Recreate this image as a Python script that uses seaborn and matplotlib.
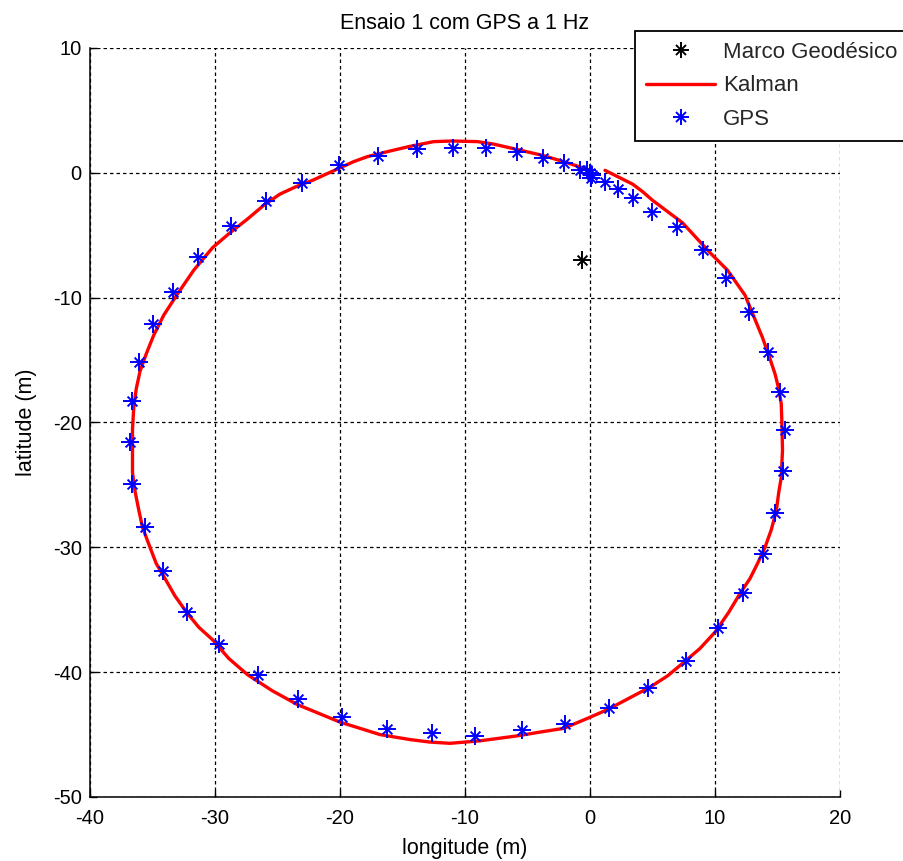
import matplotlib
matplotlib.use("Agg")
import matplotlib.pyplot as plt
import seaborn as sns
import pandas as pd
from matplotlib.lines import Line2D
from matplotlib.legend_handler import HandlerTuple

# ---- data ----
marco_lon = [-0.6]
marco_lat = [-7.0]

kalman_lon = [1.2, 2.3, 3.4, 4.2, 5.0, 6.2, 7.4, 8.5, 9.6, 10.3, 11.0, 11.7, 12.4, 13.1, 13.8,
              14.3, 14.8, 15.1, 15.3, 15.35, 15.4, 15.3, 15.1, 14.9, 14.5, 14.0, 13.4, 12.8,
              12.0, 11.1, 10.0, 8.8, 7.4, 6.2, 4.8, 3.1, 1.4, -0.2, -2.1, -4.0, -5.8, -7.3,
              -8.8, -10.0, -11.2, -12.8, -14.4, -15.6, -16.8, -18.4, -20.0, -21.7, -23.4,
              -25.4, -27.4, -28.9, -30.2, -31.3, -32.2, -33.2, -34.0, -34.7, -35.2, -35.8,
              -36.1, -36.4, -36.6, -36.6, -36.6, -36.5, -36.3, -36.0, -35.5, -34.9, -34.1,
              -33.0, -31.7, -30.2, -28.8, -27.4, -26.1, -24.8, -23.5, -22.2, -21.1, -20.0,
              -18.9, -17.8, -16.2, -14.5, -13.5, -12.5, -11.0, -9.0, -7.7, -6.4, -5.1, -3.8,
              -2.8, -1.8, -0.9, 0.0]
kalman_lat = [0.2, -0.35, -0.9, -1.5, -2.2, -3.1, -4.0, -5.2, -6.4, -7.1, -7.8, -8.8, -9.8,
              -11.5, -13.2, -14.6, -16.1, -17.3, -18.5, -20.0, -22.2, -24.4, -25.6, -27.1,
              -28.6, -30.0, -31.3, -32.5, -33.7, -35.2, -36.8, -38.1, -39.3, -40.3, -41.2,
              -42.1, -43.0, -43.7, -44.5, -44.8, -45.1, -45.3, -45.5, -45.6, -45.7, -45.6,
              -45.4, -45.2, -45.0, -44.5, -44.0, -43.3, -42.6, -41.5, -40.2, -38.9, -37.4,
              -36.4, -35.3, -33.9, -32.5, -31.3, -30.0, -28.4, -27.0, -25.5, -24.0, -22.2,
              -20.5, -18.8, -17.3, -15.9, -14.5, -13.0, -11.4, -9.7, -7.8, -6.0, -4.8, -3.7,
              -2.6, -1.7, -1.1, -0.6, -0.1, 0.4, 0.9, 1.3, 1.7, 2.1, 2.3, 2.5, 2.55, 2.5, 2.3,
              2.0, 1.7, 1.4, 1.1, 0.8, 0.5, 0.2]

gps_lon = [0.0, -0.2, 0.2, 0.1, -0.8, -2.08, -3.76, -5.84, -8.32, -10.96, -13.84, -16.96, -20.08,
           -23.04, -25.92, -28.72, -31.36, -33.36, -34.96, -36.08, -36.64, -36.8, -36.64, -35.6,
           -34.16, -32.24, -29.68, -26.56, -23.36, -19.84, -16.24, -12.64, -9.2, -5.44, -2.0,
           1.52, 4.64, 7.68, 10.24, 12.24, 13.84, 14.8, 15.44, 15.6, 15.2, 14.24, 12.72, 10.88,
           9.04, 6.96, 4.96, 3.44, 2.24, 1.2]
gps_lat = [0.0, 0.2, -0.2, -0.4, 0.24, 0.8, 1.2, 1.69, 2.0, 2.0, 1.93, 1.37, 0.64, -0.8, -2.25,
           -4.26, -6.75, -9.56, -12.13, -15.18, -18.31, -21.6, -24.9, -28.4, -31.9, -35.2, -37.75,
           -40.24, -42.17, -43.6, -44.58, -44.9, -45.14, -44.66, -44.18, -42.89, -41.29, -39.1,
           -36.47, -33.65, -30.52, -27.23, -23.86, -20.64, -17.59, -14.38, -11.16, -8.43, -6.18,
           -4.34, -3.13, -2.0, -1.29, -0.72]

x_ticks = [-40, -30, -20, -10, 0, 10, 20]
y_ticks = [-50, -40, -30, -20, -10, 0, 10]
title = "Ensaio 1 com GPS a 1 Hz"
xlabel = "longitude (m)"
ylabel = "latitude (m)"
legend_labels = ["Marco Geodésico", "Kalman", "GPS"]

# ---- style ----
sns.set_style("white")
plt.rcParams["font.family"] = ["Liberation Sans", "DejaVu Sans"]

fig = plt.figure(figsize=(9.04, 8.61), dpi=100)
ax = fig.add_axes([90 / 904, 1 - 797 / 861, 750 / 904, 749 / 861])

kal = pd.DataFrame({"lon": kalman_lon, "lat": kalman_lat})
gps = pd.DataFrame({"lon": gps_lon, "lat": gps_lat})
mar = pd.DataFrame({"lon": marco_lon, "lat": marco_lat})

sns.lineplot(data=kal, x="lon", y="lat", sort=False, estimator=None, color="#ff0000",
             linewidth=2.4, ax=ax, zorder=3)
# MATLAB-style asterisk: a plus with a smaller x
sns.scatterplot(data=gps, x="lon", y="lat", marker="+", s=160, color="#0000ff",
                linewidth=1.4, ax=ax, zorder=4)
sns.scatterplot(data=gps, x="lon", y="lat", marker="x", s=50, color="#0000ff",
                linewidth=1.4, ax=ax, zorder=4)
sns.scatterplot(data=mar, x="lon", y="lat", marker="+", s=160, color="black",
                linewidth=1.4, ax=ax, zorder=4)
sns.scatterplot(data=mar, x="lon", y="lat", marker="x", s=50, color="black",
                linewidth=1.4, ax=ax, zorder=4)

ax.set_xlim(-40, 20)
ax.set_ylim(-50, 10)
ax.set_xticks(x_ticks)
ax.set_yticks(y_ticks)
ax.set_xticklabels([str(t) for t in x_ticks])
ax.set_yticklabels([str(t) for t in y_ticks])

ax.grid(True, color="black", linestyle=(0, (2.8, 2.4)), linewidth=0.9)
for s in ["top", "right"]:
    ax.spines[s].set_visible(False)
for s in ["left", "bottom"]:
    ax.spines[s].set_color("black")
    ax.spines[s].set_linewidth(1.1)
ax.tick_params(direction="in", length=5, width=1.0, colors="black", labelsize=14.5,
               left=True, bottom=True, top=False, right=False)
ax.tick_params(axis="x", pad=9)
ax.tick_params(axis="y", pad=6)

ax.set_title(title, fontsize=15.5, pad=14, color="black")
ax.set_xlabel(xlabel, fontsize=15.5, labelpad=7, color="black")
ax.set_ylabel(ylabel, fontsize=15.5, labelpad=11, color="black")

h_marco = (Line2D([], [], ls="none", marker="+", ms=12, mew=1.4, color="black"),
           Line2D([], [], ls="none", marker="x", ms=7, mew=1.4, color="black"))
h_kal = Line2D([], [], color="#ff0000", lw=2.4)
h_gps = (Line2D([], [], ls="none", marker="+", ms=12, mew=1.4, color="#0000ff"),
         Line2D([], [], ls="none", marker="x", ms=7, mew=1.4, color="#0000ff"))
leg = fig.legend([h_marco, h_kal, h_gps], legend_labels,
                 handler_map={tuple: HandlerTuple(ndivide=1, pad=0)},
                 loc="upper left", bbox_to_anchor=(635 / 904, 1 - 31 / 861),
                 fontsize=16, frameon=True, fancybox=False, framealpha=1,
                 edgecolor="black", handlelength=3.1, handletextpad=0.35,
                 borderpad=0.5, labelspacing=0.55, borderaxespad=0)
leg.get_frame().set_linewidth(1.3)

fig.savefig("out.png", dpi=100)
